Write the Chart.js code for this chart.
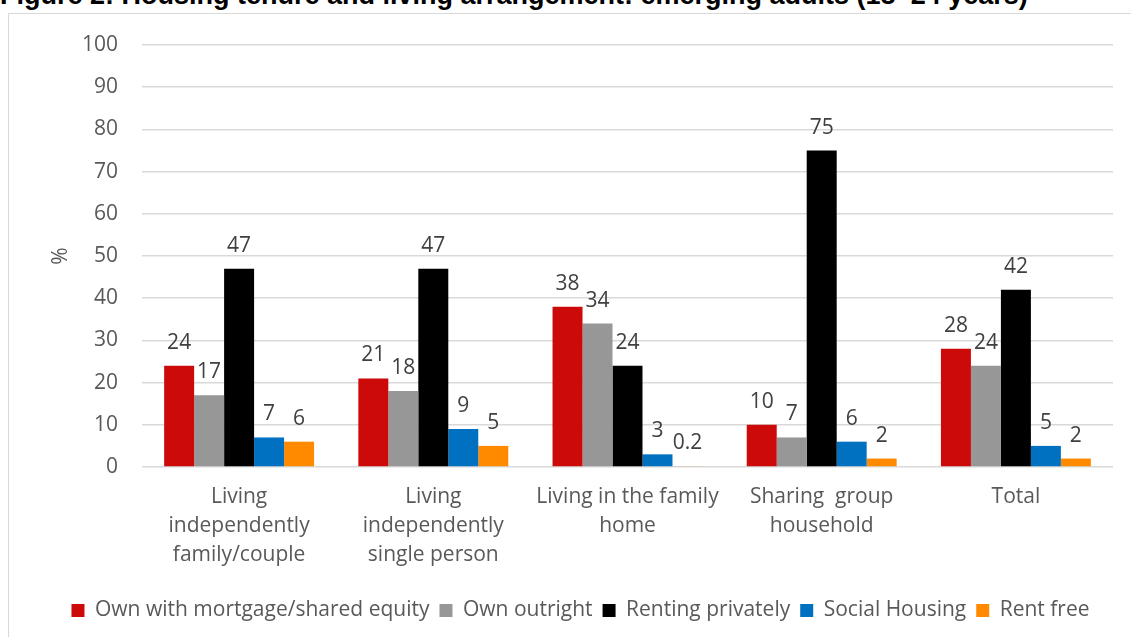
<!DOCTYPE html>
<html>
<head>
<meta charset="utf-8">
<script src="https://cdn.jsdelivr.net/npm/chart.js@4.4.1/dist/chart.umd.min.js"></script>
<style>
  html, body { margin: 0; padding: 0; background: #fff; }
  #wrap { position: relative; width: 1131px; height: 637px; overflow: hidden; }
  #fig-title {
    position: absolute; left: 0; top: -18px; white-space: nowrap;
    font: bold 27px "Liberation Sans", Arial, sans-serif; line-height: 1; color: #000;
  }
  #frame {
    position: absolute; left: 8px; top: 13px; width: 1200px; height: 700px;
    border: 1.5px solid #d9d9d9; box-sizing: border-box;
  }
  #chart { position: absolute; left: 0; top: 0; }
</style>
</head>
<body>
<div id="wrap">
  <div id="fig-title">Figure 2: Housing tenure and living arrangement: emerging adults (18–24 years)</div>
  <div id="frame"></div>
  <canvas id="chart" width="1131" height="637"></canvas>
</div>
<script>
"use strict";

// Living arrangements (x categories), split over lines as they are printed
var categories = [
	[ "Living", "independently", "family/couple" ],
	[ "Living", "independently", "single person" ],
	[ "Living in the family", "home" ],
	[ "Sharing  group", "household" ],
	"Total"
];

// Tenure types, in legend order
var seriesNames = [ "Own with mortgage/shared equity", "Own outright", "Renting privately", "Social Housing", "Rent free" ];
var seriesColors = [ "#cc0a0a", "#979797", "#000000", "#0070c0", "#ff8a00" ];

// Percentages per tenure type, one value per living arrangement
var ownMortgage = [ 24, 21, 38, 10, 28 ];
var ownOutright = [ 17, 18, 34, 7, 24 ];
var rentingPrivately = [ 47, 47, 24, 75, 42 ];
var socialHousing = [ 7, 9, 3, 6, 5 ];
var rentFree = [ 6, 5, 0.2, 2, 2 ];

var yTicks = { min: 0, max: 100, step: 10 };

var seriesValues = [ ownMortgage, ownOutright, rentingPrivately, socialHousing, rentFree ];

var fontFamily = "'Open Sans', 'Noto Sans', sans-serif",
	fontSize = 21,
	textGrey = "#595959";

// Writes each bar's value just above it
var valueLabels = {
	id: "valueLabels",
	afterDatasetsDraw: function( chart ) {
		var ctx = chart.ctx;
		ctx.save();
		ctx.font = fontSize + "px " + fontFamily;
		ctx.fillStyle = "#404040";
		ctx.textAlign = "center";
		ctx.textBaseline = "alphabetic";
		chart.data.datasets.forEach( function( ds, i ) {
			chart.getDatasetMeta( i ).data.forEach( function( bar, j ) {
				ctx.fillText( String( ds.data[ j ] ), bar.x, bar.y - 17 );
			} );
		} );
		ctx.restore();
	}
};

var datasets = seriesNames.map( function( name, i ) {
	return {
		label: name,
		data: seriesValues[ i ],
		backgroundColor: seriesColors[ i ],
		borderWidth: 0,
		barPercentage: 1,
		categoryPercentage: 0.772
	};
} );

new Chart( document.getElementById( "chart" ), {
	type: "bar",
	data: { labels: categories, datasets: datasets },
	options: {
		responsive: false,
		animation: false,
		layout: { padding: { left: 48, right: 18, top: 45, bottom: 6 } },
		plugins: {
			tooltip: { enabled: false },
			legend: {
				position: "bottom",
				labels: {
					color: textGrey,
					font: { family: fontFamily, size: fontSize },
					boxWidth: 13,
					boxHeight: 13,
					padding: 10
				}
			}
		},
		scales: {
			x: {
				grid: { display: false },
				border: { display: false },
				ticks: {
					color: textGrey,
					font: { family: fontFamily, size: fontSize, lineHeight: 1.38 },
					padding: 8,
					maxRotation: 0,
					autoSkip: false
				},
				afterFit: function( scale ) { scale.height = 123; }
			},
			y: {
				min: yTicks.min,
				max: yTicks.max,
				grid: { color: "#d9d9d9", lineWidth: 1.5, drawTicks: false },
				border: { display: false },
				ticks: {
					stepSize: yTicks.step,
					color: textGrey,
					font: { family: fontFamily, size: fontSize },
					padding: 24
				},
				title: {
					display: true,
					text: "%",
					color: textGrey,
					font: { family: fontFamily, size: fontSize },
					padding: { top: 0, bottom: 0 }
				},
				afterFit: function( scale ) { scale.width = 94; }
			}
		}
	},
	plugins: [ valueLabels ]
} );
</script>
</body>
</html>
